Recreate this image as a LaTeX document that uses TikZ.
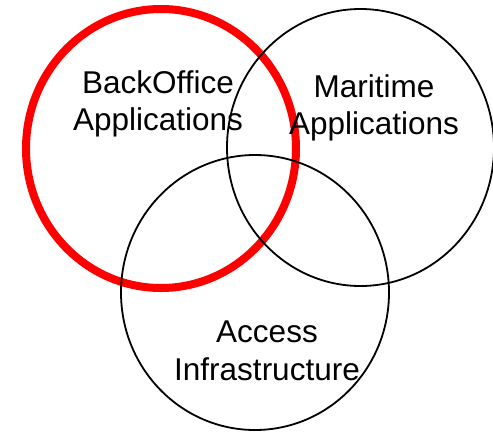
\documentclass[tikz,border=0pt]{standalone}
\usepackage{fontspec}
\setmainfont{Liberation Sans}
\begin{document}
\begin{tikzpicture}[x=1pt,y=-1pt,
  ring/.style={draw=black,line width=1.8pt},
  redring/.style={draw=red,line width=8pt},
  lbl/.style={align=center,inner sep=0pt,font=\fontsize{31.5}{37.5}\selectfont}]
\useasboundingbox (0,0) rectangle (493,432);
\draw[redring] (161,148.5) ellipse [x radius=135, y radius=139.5];
\draw[ring] (360.5,147.5) ellipse [x radius=133.5, y radius=138.5];
\draw[ring] (255,292.5) ellipse [x radius=134, y radius=137.5];
\node[lbl] (back) at (158,104) {BackOffice\\Applications};
\node[lbl] (mar) at (374,108) {Maritime\\Applications};
\node[lbl] (acc) at (267,351) {Access\\Infrastructure};
\end{tikzpicture}
\end{document}
